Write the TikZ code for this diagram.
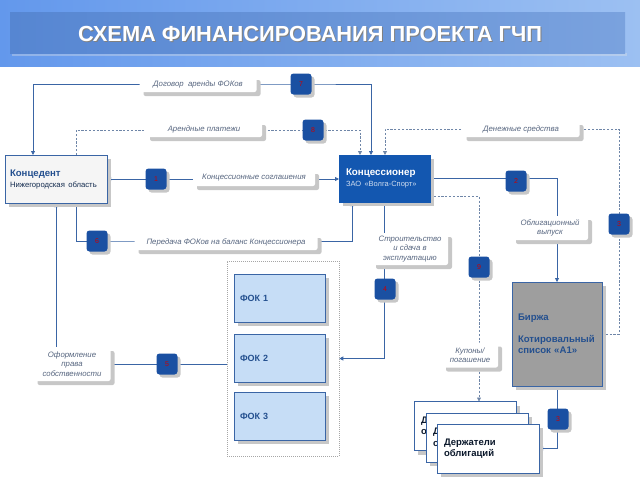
\documentclass[tikz,border=0pt]{standalone}
\usepackage{fontspec}
\setmainfont{Liberation Sans}
\usetikzlibrary{shadows,arrows.meta,calc}
\definecolor{lc}{HTML}{3A65A5}
\definecolor{dc}{HTML}{6F86A8}
\definecolor{navy}{HTML}{1357B0}
\definecolor{badgec}{HTML}{1A50A2}
\definecolor{tblue}{HTML}{24508F}
\definecolor{lbl}{HTML}{56657F}
\definecolor{fokf}{HTML}{C6DDF6}
\definecolor{hdrL}{HTML}{6398EC}
\definecolor{hdrR}{HTML}{9CC0F2}
\definecolor{barL}{HTML}{5686D2}
\definecolor{barR}{HTML}{7AA2DE}
\pgfdeclarelayer{bg}
\pgfsetlayers{bg,main}
\tikzset{
  shd/.style={drop shadow={shadow xshift=4pt,shadow yshift=-4pt,fill=black!22,opacity=1}},
  box/.style={rectangle,draw=lc,line width=0.8pt,inner sep=6pt,outer sep=0pt,align=left,shd},
  lab/.style={rectangle,fill=white,rounded corners=2pt,inner sep=1pt,outer sep=0pt,align=center,
    font=\itshape\fontsize{7.8}{9.5}\selectfont,text=lbl,shd},
  badge/.style={rectangle,rounded corners=3pt,fill=badgec,minimum width=21pt,minimum height=21pt,
    inner sep=0pt,font=\fontsize{7}{7}\selectfont,text=red!80!black,
    drop shadow={shadow xshift=3pt,shadow yshift=-3pt,fill=black!22,opacity=1}},
  fok/.style={box,fill=fokf,minimum width=91pt,minimum height=48pt,text width=79pt,
    font=\bfseries\fontsize{9}{11}\selectfont,text=tblue},
  hold/.style={box,fill=white,minimum width=102pt,minimum height=49pt,text width=88pt,inner xsep=7pt,
    font=\bfseries\fontsize{9.5}{11.5}\selectfont,text=black!70!tblue},
  ln/.style={draw=lc,line width=0.8pt},
  dsh/.style={draw=dc,line width=0.8pt,dash pattern=on 2.2pt off 1.6pt},
  tip/.style={-{Triangle[length=4pt,width=4pt]}},
  tips/.style={{Triangle[length=4pt,width=4pt]}-{Triangle[length=4pt,width=4pt]}}
}
\begin{document}
\begin{tikzpicture}[x=1pt,y=-1pt]
\useasboundingbox (0,0) rectangle (640,480);
% header
\shade[left color=hdrL,right color=hdrR] (0,0) rectangle (640,66);
\fill[black!10,opacity=0.35] (12,53) rectangle (627,56);
\shade[left color=barL,right color=barR] (10,12) rectangle (625,53);
\node[font=\bfseries\fontsize{21.8}{21.8}\selectfont,text=black!50] (titles) at (311,35) {СХЕМА ФИНАНСИРОВАНИЯ ПРОЕКТА ГЧП};
\node[font=\bfseries\fontsize{21.8}{21.8}\selectfont,text=white] (title) at (310,34) {СХЕМА ФИНАНСИРОВАНИЯ ПРОЕКТА ГЧП};

% main boxes
\node[box,fill=black!4,minimum width=102pt,minimum height=48pt,text width=92pt,inner xsep=5pt] (konts) at (56,179)
  {{\bfseries\fontsize{9.6}{11}\selectfont\color{tblue}Концедент}\\[-1pt]{\fontsize{7.7}{9}\selectfont\color{black!45!tblue}Нижегородская область}};
\node[box,fill=navy,draw=navy,minimum width=91pt,minimum height=47pt,text width=83pt,inner xsep=4pt] (konc) at (384.5,178.5)
  {\hspace*{3pt}{\bfseries\fontsize{9.8}{11}\selectfont\color{white}Концессионер}\\[-1pt]\hspace*{3pt}{\fontsize{7.5}{9}\selectfont\color{white!80!navy}ЗАО «Волга-Спорт»}};

% FOK container
\node[draw=black!35,dash pattern=on 1pt off 1pt,line width=0.6pt,minimum width=112pt,minimum height=195pt,inner sep=0pt] (cont) at (283,358.5) {};
\node[fok] (fok1) at (279.5,298) {ФОК 1};
\node[fok] (fok2) at (279.5,358) {ФОК 2};
\node[fok] (fok3) at (279.5,416) {ФОК 3};

% exchange
\node[box,fill=black!38,minimum width=90pt,minimum height=104pt,text width=78pt,inner xsep=6pt,
  font=\bfseries\fontsize{9.6}{11}\selectfont,text=tblue] (birzha) at (557,334)
  {Биржа\\[11pt]Котировальный\\список «А1»};

% holders
\node[hold] (hold1) at (465,426) {Д\\о};
\node[hold] (hold2) at (477,437.5) {Д\\о};
\node[hold] (hold3) at (488,448.5) {Держатели\\облигаций};

% labels
\node[lab,minimum width=117pt,minimum height=16pt] (L7) at (198,84) {Договор\ \ аренды ФОКов};
\node[lab,minimum width=116pt,minimum height=16pt] (L8) at (204,129) {Арендные платежи};
\node[lab,minimum width=122pt,minimum height=16pt] (L1) at (254,178) {Концессионные соглашения};
\node[lab,minimum width=117pt,minimum height=16pt] (Lden) at (521,129) {Денежные средства};
\node[lab,minimum width=183pt,minimum height=16pt] (L6) at (226,242) {Передача ФОКов на баланс Концессионера};
\node[lab,minimum width=76pt,minimum height=32pt] (L4) at (410,249) {Строительство\\и сдача в\\эксплуатацию};
\node[lab,minimum width=76pt,minimum height=24pt] (L2) at (550,228) {Облигационный\\выпуск};
\node[lab,minimum width=77pt,minimum height=34pt] (L5) at (72,364) {Оформление\\права\\собственности};
\node[lab,minimum width=56pt,minimum height=25pt] (L9) at (470,355) {Купоны/\\погашение};

% badges
\node[badge] (b7) at (301,84) {7};
\node[badge] (b8) at (313,130) {8};
\node[badge] (b1) at (156,179) {1};
\node[badge] (b6) at (97,241) {6};
\node[badge] (b2) at (516,181) {2};
\node[badge] (b3r) at (619,224) {3};
\node[badge] (b9) at (479,267) {9};
\node[badge] (b4) at (385,289) {4};
\node[badge] (b5) at (167,364) {5};
\node[badge] (b3b) at (558,419) {3};

% connectors
\begin{pgfonlayer}{bg}
\draw[ln,tips] ([xshift=-23pt]konts.north) |- (b7.center) -| ([xshift=-13.5pt]konc.north);
\draw[dsh,tip] ([xshift=20pt]konts.north) |- (b8.center) -| ([xshift=-24.5pt]konc.north);
\draw[dsh,tip] (birzha.east) -| (b3r.center) |- (Lden.center) -| ([xshift=0.5pt]konc.north);
\draw[ln,tips] (konts.east) -- (konts.east -| konc.west);
\draw[ln,tip] ([xshift=20pt]konts.south) |- (b6.center) -| ([xshift=-32.5pt]konc.south);
\draw[ln,tip] (cont.west |- b5) -| (konts.south);
\draw[ln,tip] (konc.south) |- (cont.east);
\draw[ln,tip] (konc.east) -| (birzha.north);
\draw[dsh,tip] ($(konc.east)+(0,18)$) -| (b9.center) -- (b9.center |- hold1.north);
\draw[ln,tip] (birzha.south) |- (hold3.east);
\end{pgfonlayer}
\end{tikzpicture}
\end{document}
